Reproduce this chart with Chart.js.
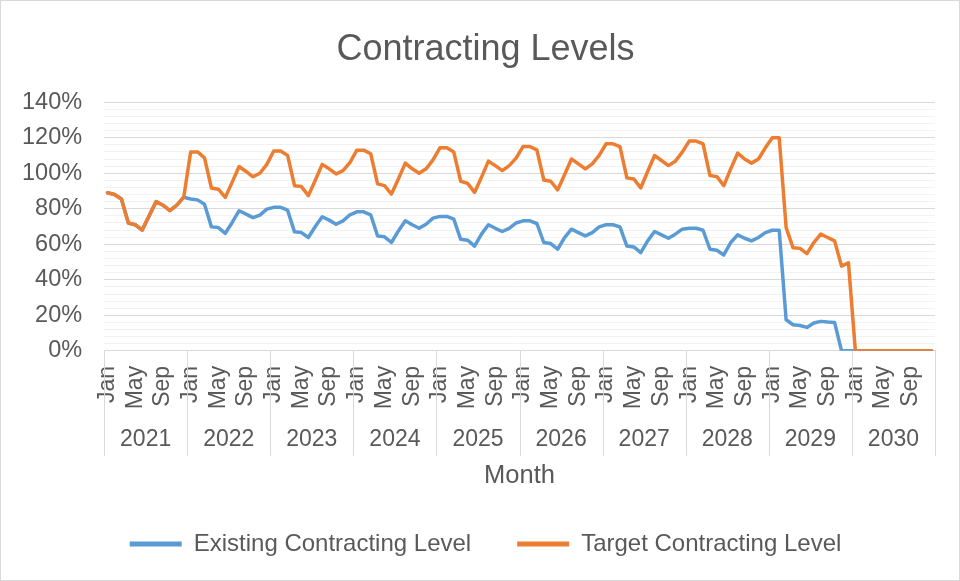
<!DOCTYPE html>
<html>
<head>
<meta charset="utf-8">
<script src="https://cdn.jsdelivr.net/npm/chart.js@4/dist/chart.umd.min.js"></script>
<style>
  html, body { margin: 0; padding: 0; background: #fff; }
  #wrap { width: 960px; height: 581px; box-sizing: border-box; border: 1px solid #d9d9d9; }
</style>
</head>
<body>
<div id="wrap"><canvas id="contractChart"></canvas></div>
<script>
const monthNames = ['Jan', 'Feb', 'Mar', 'Apr', 'May', 'Jun', 'Jul', 'Aug', 'Sep', 'Oct', 'Nov', 'Dec'];
const years = ['2021', '2022', '2023', '2024', '2025', '2026', '2027', '2028', '2029', '2030'];

// monthly values in %, Jan 2021 .. Dec 2030
const existingLevel = [
    89, 88, 85.5, 72, 71, 68, 76, 84, 82, 79, 82, 86.5,
    85.5, 85, 82.6, 69.8, 69.4, 66.2, 72.3, 78.9, 77, 75, 76.4, 79.8,
    80.8, 80.8, 79.2, 67, 66.6, 63.8, 70, 75.5, 73.6, 71.3, 73.2, 76.6,
    78.3, 78.3, 76.6, 64.7, 64.2, 61, 67.5, 73.2, 71, 69, 71.3, 74.7,
    75.7, 75.7, 74.2, 62.8, 62.3, 59, 65.7, 71, 69, 67.2, 69, 72,
    73.2, 73.2, 71.7, 61, 60.4, 57.2, 63.8, 68.5, 66.6, 64.7, 66.6, 69.8,
    71, 71, 69.8, 59, 58.5, 55.3, 61.9, 67.2, 65.3, 63.4, 65.7, 68.5,
    69, 69, 67.9, 57.2, 56.6, 54, 61, 65.3, 63.4, 61.9, 63.8, 66.6,
    67.9, 67.9, 17.5, 14.7, 14.3, 13.2, 15.7, 16.6, 16.2, 16, 0, 0,
    0, 0, 0, 0, 0, 0, 0, 0, 0, 0, 0, 0
];
const targetLevel = [
    89, 88, 85.5, 72, 71, 68, 76, 84, 82, 79, 82, 86.5,
    112, 112, 108.7, 91.7, 91, 86.4, 95, 103.8, 101, 98, 100, 105,
    112.5, 112.5, 110, 93, 92.5, 87.4, 96, 105, 102.5, 99.6, 101.5, 106,
    113, 113, 111, 94, 93, 88.3, 96.8, 105.7, 102.5, 100, 102.5, 107.5,
    114.3, 114.3, 111.9, 95.5, 94.3, 89.2, 97.7, 106.8, 104.3, 101.5, 104.3, 108.5,
    115, 115, 113.2, 96.2, 95.5, 90.6, 99.2, 108, 105.3, 102.5, 105.3, 110,
    116.6, 116.6, 115, 97.4, 96.8, 91.7, 101, 110, 107.2, 104.3, 106.8, 111.9,
    118.1, 118.1, 116.6, 98.7, 98.1, 93, 102.5, 111.3, 108, 105.7, 108, 114.3,
    120, 120, 69.4, 58, 57.7, 54.7, 61, 65.7, 63.8, 61.9, 47.7, 49.6,
    0, 0, 0, 0, 0, 0, 0, 0, 0, 0, 0, 0
];

const monthLabels = years.flatMap(() => monthNames);

Chart.defaults.font.family = "'Liberation Sans', Arial, sans-serif";
Chart.defaults.color = '#595959';

// vertical separators between the year groups under the axis
const yearDividers = {
    id: 'yearDividers',
    afterDraw(chart) {
        const xs = chart.scales.x;
        const ys = chart.scales.xYear;
        const t = ys.options.ticks;
        const bottom = ys.top + t.padding * 2 + t.font.size * 1.2;
        const c = chart.ctx;
        c.save();
        c.strokeStyle = '#d9d9d9';
        c.lineWidth = 1;
        c.beginPath();
        for (let k = 0; k <= years.length; k++) {
            const px = Math.round(xs.getPixelForValue(k * monthNames.length - 0.5)) + 0.5;
            c.moveTo(px, xs.top);
            c.lineTo(px, bottom);
        }
        c.stroke();
        c.restore();
    }
};

const ctx = document.getElementById('contractChart').getContext('2d');
new Chart(ctx, {
    type: 'line',
    data: {
        labels: monthLabels,
        datasets: [
            {
                label: 'Existing Contracting Level',
                data: existingLevel,
                borderColor: '#5b9bd5',
                backgroundColor: '#5b9bd5',
                borderWidth: 3.5,
                borderCapStyle: 'round',
                borderJoinStyle: 'round',
                pointRadius: 0,
                tension: 0,
                order: 1
            },
            {
                label: 'Target Contracting Level',
                data: targetLevel,
                borderColor: '#ed7d31',
                backgroundColor: '#ed7d31',
                borderWidth: 3.5,
                borderCapStyle: 'round',
                borderJoinStyle: 'round',
                pointRadius: 0,
                tension: 0,
                order: 0
            }
        ]
    },
    options: {
        responsive: true,
        maintainAspectRatio: false,
        animation: false,
        layout: { padding: { left: -1, right: -12, top: 0, bottom: 14 } },
        scales: {
            x: {
                type: 'category',
                offset: true,
                grid: { display: false, drawTicks: false },
                border: { display: true, color: '#d9d9d9', width: 1 },
                ticks: {
                    autoSkip: false,
                    minRotation: 90,
                    maxRotation: 90,
                    padding: 15,
                    font: { size: 23 },
                    callback: function(val, i) {
                        return i % 4 === 0 ? this.getLabelForValue(val) : '';
                    }
                },
                afterFit: function(scale) {
                    scale.paddingLeft = 0;
                    scale.paddingRight = 0;
                }
            },
            xYear: {
                type: 'category',
                axis: 'x',
                position: 'bottom',
                labels: years,
                offset: true,
                weight: 1,
                grid: { display: false, drawTicks: false },
                border: { display: false },
                ticks: { autoSkip: false, maxRotation: 0, padding: 2, font: { size: 23 } },
                title: {
                    display: true,
                    text: 'Month',
                    font: { size: 25.5 },
                    padding: { top: 5, bottom: -5.5 }
                }
            },
            y: {
                min: 0,
                max: 140,
                border: { display: false },
                grid: {
                    drawTicks: false,
                    color: c => (c.tick && c.tick.value % 20 === 0) ? '#d9d9d9' : '#f2f2f2'
                },
                ticks: {
                    stepSize: 4,
                    autoSkip: false,
                    padding: 22,
                    font: { size: 23.5 },
                    callback: v => v % 20 === 0 ? v + '%' : ''
                }
            },
            // empty strip on the right, keeps the plot edge where the original has it
            yRight: {
                type: 'linear',
                axis: 'y',
                position: 'right',
                grid: { display: false, drawTicks: false },
                border: { display: false },
                ticks: { display: false },
                afterFit: function(scale) {
                    scale.width = 36;
                }
            }
        },
        plugins: {
            title: {
                display: true,
                text: 'Contracting Levels',
                color: '#595959',
                font: { size: 36, weight: 'normal' },
                padding: { top: 27, bottom: 31 }
            },
            legend: {
                position: 'bottom',
                labels: {
                    usePointStyle: true,
                    pointStyle: 'line',
                    pointStyleWidth: 52,
                    padding: 46,
                    color: '#595959',
                    font: { size: 24 },
                    sort: (a, b) => a.datasetIndex - b.datasetIndex,
                    generateLabels: chart => Chart.defaults.plugins.legend.labels.generateLabels(chart)
                        .map(item => Object.assign(item, { lineWidth: 5 }))
                }
            },
            tooltip: { enabled: false }
        }
    },
    plugins: [yearDividers]
});
</script>
</body>
</html>
